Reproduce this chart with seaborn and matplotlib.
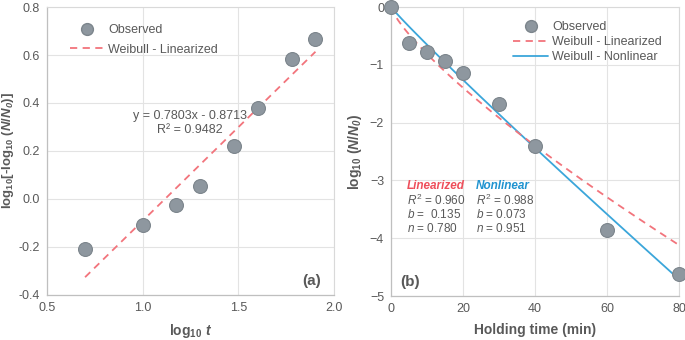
import numpy as np
import pandas as pd
import matplotlib
matplotlib.use("Agg")
import matplotlib.pyplot as plt
import seaborn as sns
from matplotlib.ticker import FormatStrFormatter
from matplotlib.lines import Line2D

# ---- data ----
time_min = [0, 5, 10, 15, 20, 30, 40, 60, 80]
log_survival = [0.0, -0.62, -0.77, -0.94, -1.15, -1.68, -2.41, -3.86, -4.62]
log_t = [0.699, 1.000, 1.176, 1.301, 1.477, 1.602, 1.778, 1.903]
loglog_survival = [-0.21, -0.11, -0.025, 0.055, 0.22, 0.38, 0.585, 0.665]

# fitted parameters shown in chart
lin_slope, lin_intercept = 0.7803, -0.8713
b_lin, n_lin = 0.135, 0.780
b_nl, n_nl = 0.073, 0.951

sns.set_theme(style="whitegrid")
FONT = 'Liberation Sans'
plt.rcParams['font.family'] = [FONT, 'DejaVu Sans']
plt.rcParams['mathtext.fontset'] = 'custom'
plt.rcParams['mathtext.rm'] = FONT
plt.rcParams['mathtext.it'] = FONT + ':italic'
plt.rcParams['mathtext.bf'] = FONT + ':bold'
plt.rcParams['mathtext.bfit'] = FONT + ':italic:bold'

txt = '#595959'
grid_c = '#e3e3e3'
mk_c = '#8e979f'
mk_e = '#7c858c'
red = '#f2747c'
blue = '#3ba6da'

fig = plt.figure(figsize=(6.85, 3.4), dpi=100)
ax1 = fig.add_axes([0.0686, 0.1324, 0.419, 0.847])
ax2 = fig.add_axes([0.5708, 0.1294, 0.4204, 0.850])

def style(ax):
    ax.set_facecolor('white')
    ax.grid(True, color=grid_c, linewidth=0.8)
    for s in ['top', 'right']:
        ax.spines[s].set_color('#d9d9d9')
        ax.spines[s].set_linewidth(0.8)
    for s in ['left', 'bottom']:
        ax.spines[s].set_color('#bfbfbf')
        ax.spines[s].set_linewidth(0.9)
    ax.tick_params(colors=txt, labelsize=9, length=0, pad=5)

# ---- panel (a) ----
dfa = pd.DataFrame({'x': log_t, 'y': loglog_survival})
fit_x = np.array([log_t[0], log_t[-1]])
dfa_fit = pd.DataFrame({'x': fit_x, 'y': lin_slope * fit_x + lin_intercept})
sns.lineplot(data=dfa_fit, x='x', y='y', ax=ax1, color=red, linestyle=(0, (4, 3)),
             linewidth=1.3, zorder=2)
sns.scatterplot(data=dfa, x='x', y='y', ax=ax1, s=100, color=mk_c, edgecolor=mk_e,
                linewidth=0.8, zorder=3)
style(ax1)
ax1.set_xlim(0.5, 2.0)
ax1.set_ylim(-0.4, 0.8)
ax1.set_xticks([0.5, 1.0, 1.5, 2.0])
ax1.set_yticks([-0.4, -0.2, 0.0, 0.2, 0.4, 0.6, 0.8])
ax1.xaxis.set_major_formatter(FormatStrFormatter('%.1f'))
ax1.yaxis.set_major_formatter(FormatStrFormatter('%.1f'))
ax1.set_xlabel(r'log$_{\mathbf{10}}$ $\mathbfit{t}$', fontsize=10, fontweight='bold', color=txt, labelpad=6)
ax1.set_ylabel(r'log$_{\mathbf{10}}$[-log$_{\mathbf{10}}$ ($\mathbfit{N}$/$\mathbfit{N}_{\mathbfit{0}}$)]',
               fontsize=9.5, fontweight='bold', color=txt)
ax1.yaxis.set_label_coords(-0.108, 0.5)
ax1.text(1.247, 0.317, 'y = 0.7803x - 0.8713\nR² = 0.9482', ha='center', va='center',
         fontsize=9, color=txt, linespacing=1.3)
ax1.text(1.93, -0.34, '(a)', ha='right', va='center', fontsize=11, fontweight='bold', color=txt)
h1 = [Line2D([], [], marker='o', linestyle='none', markersize=8.5, markerfacecolor=mk_c, markeredgecolor=mk_e),
      Line2D([], [], color=red, linestyle=(0, (4, 3)), linewidth=1.3)]
ax1.legend(h1, ['Observed', 'Weibull - Linearized'], loc='upper left', bbox_to_anchor=(0.04, 0.98),
           frameon=False, fontsize=9, labelcolor=txt, handlelength=2.8, handletextpad=0.3,
           labelspacing=0.6)

# ---- panel (b) ----
dfb = pd.DataFrame({'t': time_min, 'y': log_survival})
t_fine = np.linspace(0, 80, 161)
dfb_lin = pd.DataFrame({'t': t_fine, 'y': -b_lin * t_fine ** n_lin})
dfb_nl = pd.DataFrame({'t': t_fine, 'y': -b_nl * t_fine ** n_nl})
sns.lineplot(data=dfb_nl, x='t', y='y', ax=ax2, color=blue, linewidth=1.3, zorder=2)
sns.lineplot(data=dfb_lin, x='t', y='y', ax=ax2, color=red, linestyle=(0, (4, 3)),
             linewidth=1.3, zorder=2)
sns.scatterplot(data=dfb, x='t', y='y', ax=ax2, s=100, color=mk_c, edgecolor=mk_e,
                linewidth=0.8, zorder=3, clip_on=False)
style(ax2)
ax2.set_xlim(0, 80)
ax2.set_ylim(-5, 0)
ax2.set_xticks([0, 20, 40, 60, 80])
ax2.set_yticks([-5, -4, -3, -2, -1, 0])
ax2.set_xlabel('Holding time (min)', fontsize=10, fontweight='bold', color=txt, labelpad=6)
ax2.set_ylabel(r'log$_{\mathbf{10}}$ ($\mathbfit{N}$/$\mathbfit{N}_{\mathbfit{0}}$)',
               fontsize=10, fontweight='bold', color=txt, labelpad=4)
ax2.text(4.5, -3.1, 'Linearized', fontsize=8.5, fontweight='bold', fontstyle='italic', color='#ee4f5b',
         va='center')
ax2.text(23.6, -3.1, 'Nonlinear', fontsize=8.5, fontweight='bold', fontstyle='italic', color='#1f93d0',
         va='center')
for i, (l, r) in enumerate(zip([r'$\mathit{R}^{2}$ = 0.960', r'$\mathit{b}$ =  0.135', r'$\mathit{n}$ = 0.780'],
                               [r'$\mathit{R}^{2}$ = 0.988', r'$\mathit{b}$ = 0.073', r'$\mathit{n}$ = 0.951'])):
    yy = -3.34 - 0.245 * i
    ax2.text(4.5, yy, l, fontsize=8.5, color=txt, va='center')
    ax2.text(23.6, yy, r, fontsize=8.5, color=txt, va='center')
ax2.text(2.5, -4.76, '(b)', ha='left', va='center', fontsize=11, fontweight='bold', color=txt)
h2 = [Line2D([], [], marker='o', linestyle='none', markersize=8.5, markerfacecolor=mk_c, markeredgecolor=mk_e),
      Line2D([], [], color=red, linestyle=(0, (4, 3)), linewidth=1.3),
      Line2D([], [], color=blue, linewidth=1.3)]
ax2.legend(h2, ['Observed', 'Weibull - Linearized', 'Weibull - Nonlinear'], loc='upper right',
           bbox_to_anchor=(0.98, 0.99), frameon=False, fontsize=9, labelcolor=txt,
           handlelength=2.8, handletextpad=0.3, labelspacing=0.25)

fig.savefig('out.png', dpi=100)
